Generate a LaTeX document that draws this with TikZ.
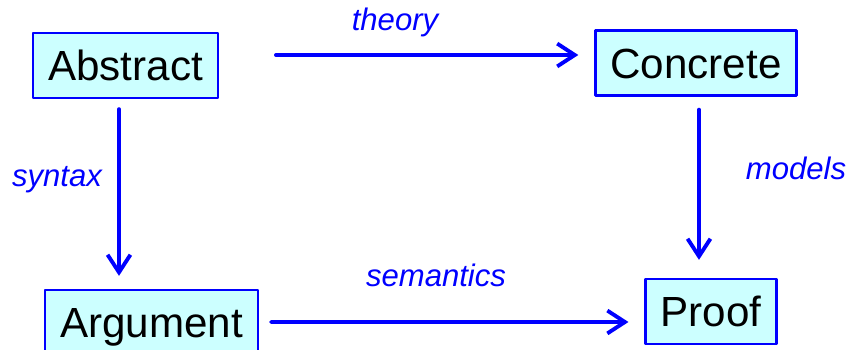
\documentclass[tikz,border=0pt]{standalone}
\usepackage{fontspec}
\setmainfont{Liberation Sans}
\usepackage{tikz}
\usetikzlibrary{arrows.meta,calc}
\definecolor{boxfill}{RGB}{204,255,255}
\definecolor{linkblue}{RGB}{0,0,255}

\tikzset{
  term/.style={draw=linkblue, line width=1.3pt, fill=boxfill, inner xsep=0.3cm,
    minimum height=1.3cm, text height=17.2pt, text depth=0pt,
    font=\fontsize{24}{28}\selectfont},
  link/.style={linkblue, line width=2.2pt, -{Straight Barb[length=10pt,width=13pt]}},
  tag/.style={text=linkblue, font=\fontsize{17.7}{20}\selectfont\itshape}
}

\begin{document}
\begin{tikzpicture}[x=0.02cm, y=-0.02cm, line cap=round, line join=round]
  \path[use as bounding box] (0,0) rectangle (849,349);

  % Terms
  \node[term] (abs) at (125.5,65.5) {Abstract};
  \node[term] (con) at (696,63) {Concrete};
  \node[term] (arg) at (151.5,322.5) {Argument};
  \node[term] (prf) at (711,311.5) {Proof};

  % Links
  \draw[link] ($(abs.east)+(57,-10.5)$) -- ($(con.west)+(-16,-8)$);
  \draw[link] ($(abs.south)+(-6.5,10)$) -- ($(arg.north)+(-32.5,-13)$);
  \draw[link] ($(con.south)+(3,13)$) -- ($(prf.north)+(-12,-18)$);
  \draw[link] ($(arg.east)+(12,-0.5)$) -- ($(prf.west)+(-16,10.5)$);

  % Labels
  \node[tag] (theory) at (395,22) {theory};
  \node[tag] (syntax) at (57,180) {syntax};
  \node[tag] (models) at (796,168) {models};
  \node[tag] (semantics) at (436,275) {semantics};

\end{tikzpicture}
\end{document}
